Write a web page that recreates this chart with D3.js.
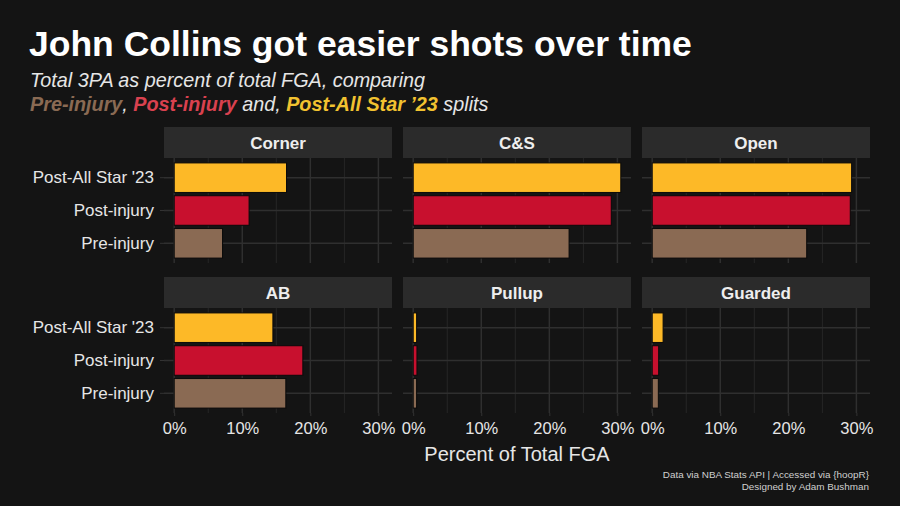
<!DOCTYPE html>
<html><head><meta charset="utf-8">
<script src="https://cdn.jsdelivr.net/npm/d3@7"></script>
<style>
html,body{margin:0;padding:0;background:#141414;}
svg{display:block;}
</style></head>
<body>
<svg id="chart" width="900" height="506"></svg>
<script>
// ---- data ----
const facets = ["Corner", "C&S", "Open", "AB", "Pullup", "Guarded"];
const splits = ["Post-All Star '23", "Post-injury", "Pre-injury"];
const preInjury  = [7.1, 22.9, 22.7, 16.4, 0.5, 0.9];
const postInjury = [11.0, 29.1, 29.1, 18.9, 0.55, 0.95];
const postAllStar = [16.5, 30.5, 29.3, 14.5, 0.5, 1.6];
const xTicks = [0, 10, 20, 30];
const splitColors = {"Pre-injury": "#8a6a53", "Post-injury": "#c8102e", "Post-All Star '23": "#fdb927"};

const rows = [];
facets.forEach((f, i) => {
  rows.push({facet: f, split: "Pre-injury", value: preInjury[i]});
  rows.push({facet: f, split: "Post-injury", value: postInjury[i]});
  rows.push({facet: f, split: "Post-All Star '23", value: postAllStar[i]});
});

const svg = d3.select("#chart");
svg.append("rect").attr("width", 900).attr("height", 506).attr("fill", "#141414");

const font = "Liberation Sans, Arial, Helvetica, sans-serif";
const txt = "#e6e6e6";

// title
svg.append("text").attr("x", 29).attr("y", 56).attr("fill", "#ffffff")
  .attr("font-family", font).attr("font-weight", "bold").attr("font-size", 35.5)
  .text("John Collins got easier shots over time");
svg.append("text").attr("x", 30).attr("y", 87).attr("fill", txt)
  .attr("font-family", font).attr("font-style", "italic").attr("font-size", 19.8)
  .text("Total 3PA as percent of total FGA, comparing");
const sub2 = svg.append("text").attr("x", 30).attr("y", 111)
  .attr("font-family", font).attr("font-style", "italic").attr("font-size", 19.8).attr("fill", txt);
sub2.append("tspan").attr("fill", splitColors["Pre-injury"]).attr("font-weight", "bold").text("Pre-injury");
sub2.append("tspan").text(", ");
sub2.append("tspan").attr("fill", "#d9414f").attr("font-weight", "bold").text("Post-injury");
sub2.append("tspan").text(" and, ");
sub2.append("tspan").attr("fill", "#f2c230").attr("font-weight", "bold").text("Post-All Star \u201923");
sub2.append("tspan").text(" splits");

// layout
const colX = [164, 403, 642];
const panelW = 228;
const rowTop = [127, 277];
const stripH = 31;
const panelH = 105;

const x = d3.scaleLinear().domain([-1.5, 32]).range([0, panelW]);
const y = d3.scaleBand().domain(splits).range([0, panelH]).paddingInner(0.1).paddingOuter(0.15);

facets.forEach((f, i) => {
  const c = i % 3, r = Math.floor(i / 3);
  const g = svg.append("g").attr("transform", `translate(${colX[c]},${rowTop[r]})`);
  // strip
  g.append("rect").attr("width", panelW).attr("height", stripH).attr("fill", "#2b2b2b");
  g.append("text").attr("x", panelW / 2).attr("y", stripH / 2 + 6).attr("text-anchor", "middle")
    .attr("fill", "#eeeeee").attr("font-family", font).attr("font-weight", "bold").attr("font-size", 17)
    .text(f);
  const p = g.append("g").attr("transform", `translate(0,${stripH})`);
  // grid
  const minor = [5, 15, 25];
  p.selectAll(".minor").data(minor).join("line")
    .attr("x1", d => x(d)).attr("x2", d => x(d)).attr("y1", 0).attr("y2", panelH)
    .attr("stroke", "#262626").attr("stroke-width", 1);
  p.selectAll(".major").data(xTicks).join("line")
    .attr("x1", d => x(d)).attr("x2", d => x(d)).attr("y1", 0).attr("y2", panelH)
    .attr("stroke", "#2f2f2f").attr("stroke-width", 1.5);
  p.selectAll(".hgrid").data(splits).join("line")
    .attr("x1", 0).attr("x2", panelW)
    .attr("y1", d => y(d) + y.bandwidth() / 2).attr("y2", d => y(d) + y.bandwidth() / 2)
    .attr("stroke", "#2f2f2f").attr("stroke-width", 1.5);
  // bars
  p.selectAll(".bar").data(rows.filter(d => d.facet === f)).join("rect")
    .attr("x", x(0)).attr("y", d => y(d.split))
    .attr("width", d => x(d.value) - x(0)).attr("height", y.bandwidth())
    .attr("fill", d => splitColors[d.split])
    .attr("stroke", "#0a0a0a").attr("stroke-width", 1);
  // y axis on first column
  if (c === 0) {
    const ya = p.append("g").call(d3.axisLeft(y).tickSize(4).tickPadding(6));
    ya.select(".domain").remove();
    ya.selectAll("line").attr("stroke", "#333333");
    ya.selectAll("text").attr("fill", txt).attr("font-family", font).attr("font-size", 17);
  }
  // x axis on bottom row
  if (r === 1) {
    const xa = p.append("g").attr("transform", `translate(0,${panelH})`)
      .call(d3.axisBottom(x).tickValues(xTicks).tickFormat(d => d + "%").tickSize(3).tickPadding(6));
    xa.select(".domain").remove();
    xa.selectAll("line").attr("stroke", "#333333");
    xa.selectAll("text").attr("fill", txt).attr("font-family", font).attr("font-size", 16.5);
  }
});

// axis title
svg.append("text").attr("x", 517).attr("y", 461).attr("text-anchor", "middle")
  .attr("fill", txt).attr("font-family", font).attr("font-size", 20).text("Percent of Total FGA");

// caption
svg.append("text").attr("x", 869).attr("y", 478).attr("text-anchor", "end")
  .attr("fill", "#d0d0d0").attr("font-family", font).attr("font-size", 9.9)
  .text("Data via NBA Stats API | Accessed via {hoopR}");
svg.append("text").attr("x", 869).attr("y", 490).attr("text-anchor", "end")
  .attr("fill", "#d0d0d0").attr("font-family", font).attr("font-size", 9.9)
  .text("Designed by Adam Bushman");
</script>
</body></html>
